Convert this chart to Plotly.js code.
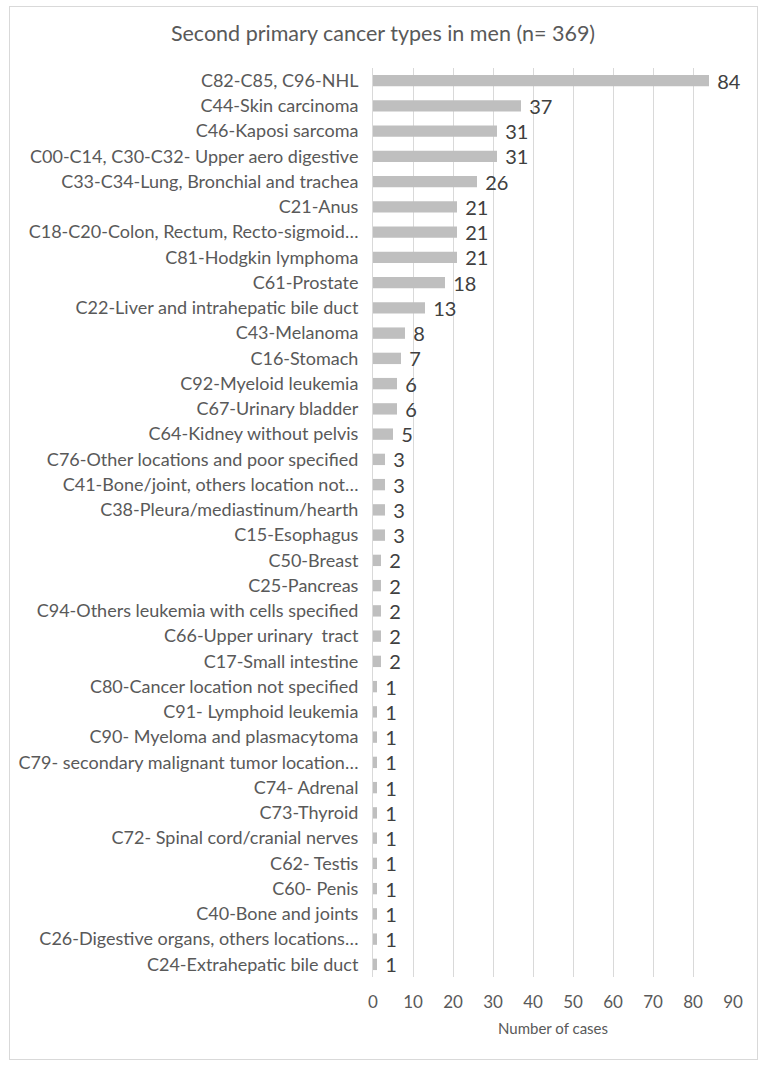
<!DOCTYPE html>
<html><head><meta charset="utf-8">
<script src="https://cdn.plot.ly/plotly-3.0.1.min.js"></script>
<style>
html,body{margin:0;padding:0;background:#fff;}
#chart{width:766px;height:1067px;}
#frame{position:absolute;left:9px;top:6px;width:747px;height:1052px;border:1px solid #d9d9d9;pointer-events:none;}
</style></head>
<body>
<div id="chart"></div>
<div id="frame"></div>
<script>
const categories = [
"C82-C85, C96-NHL",
"C44-Skin carcinoma",
"C46-Kaposi sarcoma",
"C00-C14, C30-C32- Upper aero digestive",
"C33-C34-Lung, Bronchial and trachea",
"C21-Anus",
"C18-C20-Colon, Rectum, Recto-sigmoid…",
"C81-Hodgkin lymphoma",
"C61-Prostate",
"C22-Liver and intrahepatic bile duct",
"C43-Melanoma",
"C16-Stomach",
"C92-Myeloid leukemia",
"C67-Urinary bladder",
"C64-Kidney without pelvis",
"C76-Other locations and poor specified",
"C41-Bone/joint, others location not…",
"C38-Pleura/mediastinum/hearth",
"C15-Esophagus",
"C50-Breast",
"C25-Pancreas",
"C94-Others leukemia with cells specified",
"C66-Upper urinary  tract",
"C17-Small intestine",
"C80-Cancer location not specified",
"C91- Lymphoid leukemia",
"C90- Myeloma and plasmacytoma",
"C79- secondary malignant tumor location…",
"C74- Adrenal",
"C73-Thyroid",
"C72- Spinal cord/cranial nerves",
"C62- Testis",
"C60- Penis",
"C40-Bone and joints",
"C26-Digestive organs, others locations…",
"C24-Extrahepatic bile duct"
];
const cases = [84,37,31,31,26,21,21,21,18,13,8,7,6,6,5,3,3,3,3,2,2,2,2,2,1,1,1,1,1,1,1,1,1,1,1,1];
const xTicks = [0,10,20,30,40,50,60,70,80,90];
const titleText = "Second primary cancer types in men (n= 369)";
const xTitle = "Number of cases";

const FONT = "Lato, 'Open Sans', sans-serif";
const trace = {
  type: "bar",
  orientation: "h",
  y: categories,
  x: cases,
  texttemplate: " %{x}",
  textposition: "outside",
  constraintext: "none",
  cliponaxis: false,
  textfont: {family: FONT, size: 20, color: "#404040"},
  marker: {color: "#bfbfbf"},
  hoverinfo: "x+y"
};
const layout = {
  width: 766, height: 1067,
  margin: {l: 373, r: 33, t: 68, b: 90},
  paper_bgcolor: "#ffffff",
  plot_bgcolor: "#ffffff",
  bargap: 0.55,
  showlegend: false,
  title: {text: titleText, font: {family: FONT, size: 21.5, color: "#595959"}, x: 0.5, xanchor: "center", y: 0.969, yanchor: "middle"},
  xaxis: {
    range: [0, 90], tickvals: xTicks, ticktext: xTicks.map(String),
    showgrid: true, gridcolor: "#d9d9d9", gridwidth: 1,
    zeroline: false, showline: false,
    ticks: "", tickfont: {family: FONT, size: 17, color: "#595959"},
    ticklabelstandoff: 13,
    title: {text: xTitle, font: {family: FONT, size: 15, color: "#595959"}, standoff: 12}
  },
  yaxis: {
    type: "category", autorange: "reversed",
    showgrid: false, zeroline: false, showline: true, linecolor: "#d9d9d9", linewidth: 1,
    ticks: "", tickfont: {family: FONT, size: 18, color: "#595959"},
    ticklabelstandoff: 10
  }
};
Plotly.newPlot("chart", [trace], layout, {displayModeBar: false, staticPlot: true});
</script>
</body></html>
